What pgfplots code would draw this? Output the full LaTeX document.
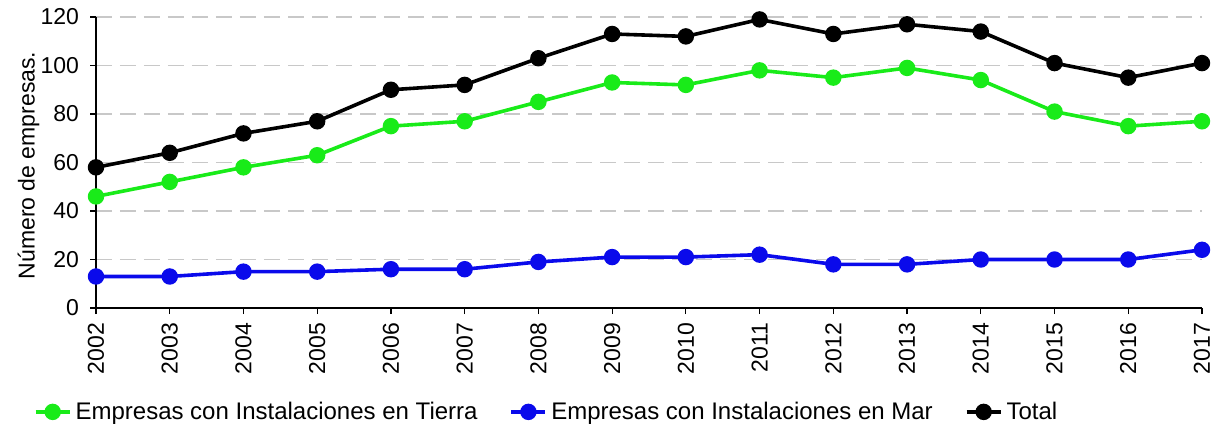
\documentclass[border=0pt]{standalone}
\usepackage{fontspec}
\setmainfont{Liberation Sans}
\usepackage{pgfplots}
\pgfplotsset{compat=1.18}
\definecolor{cgreen}{RGB}{25,235,25}
\definecolor{cblue}{RGB}{10,10,235}
\definecolor{cgrid}{RGB}{200,200,200}
\begin{document}
\begin{tikzpicture}
\begin{axis}[
  at={(0,0)}, anchor=south west,
  scale only axis, width=553pt, height=145.5pt,
  xmin=2002, xmax=2017, ymin=0, ymax=120,
  xtick={2002,2003,...,2017}, ytick={0,20,...,120},
  axis lines*=left, axis line style={-, black, line width=0.7pt},
  tick style={black, line width=0.6pt}, tick align=outside, major tick length=3pt,
  ymajorgrids, grid style={cgrid, line width=0.7pt, dash pattern=on 8pt off 4pt},
  /pgf/number format/assume math mode=true,
  /pgf/number format/1000 sep={},
  tick label style={font=\fontsize{11.5}{13}\selectfont},
  x tick label style={rotate=90, anchor=east, xshift=0pt},
  xticklabel shift=1pt,
  yticklabel shift=2pt,
  ylabel={Número de empresas.},
  ylabel style={at={(axis description cs:-0.061,0.49)}, anchor=center, font=\fontsize{11.5}{13}\selectfont},
  legend style={at={(axis description cs:-0.062,-0.357)}, anchor=west, draw=none, fill=none,
    font=\fontsize{12}{14}\selectfont},
  legend columns=-1,
  legend cell align=left,
  /tikz/every even column/.append style={column sep=14pt},
  every axis plot/.append style={line width=1.8pt, mark=*, mark size=3.2pt},
]
\addplot[cgreen, mark options={fill=cgreen, draw=cgreen}] coordinates {
(2002,46) (2003,52) (2004,58) (2005,63) (2006,75) (2007,77) (2008,85) (2009,93)
(2010,92) (2011,98) (2012,95) (2013,99) (2014,94) (2015,81) (2016,75) (2017,77)};
\addlegendentry{Empresas con Instalaciones en Tierra}
\addplot[cblue, mark options={fill=cblue, draw=cblue}] coordinates {
(2002,13) (2003,13) (2004,15) (2005,15) (2006,16) (2007,16) (2008,19) (2009,21)
(2010,21) (2011,22) (2012,18) (2013,18) (2014,20) (2015,20) (2016,20) (2017,24)};
\addlegendentry{Empresas con Instalaciones en Mar}
\addplot[black, mark options={fill=black, draw=black}] coordinates {
(2002,58) (2003,64) (2004,72) (2005,77) (2006,90) (2007,92) (2008,103) (2009,113)
(2010,112) (2011,119) (2012,113) (2013,117) (2014,114) (2015,101) (2016,95) (2017,101)};
\addlegendentry{Total}
\end{axis}
\pgfresetboundingbox
\path[use as bounding box] (-48pt,-61pt) rectangle (560pt,154pt);
\end{tikzpicture}
\end{document}
